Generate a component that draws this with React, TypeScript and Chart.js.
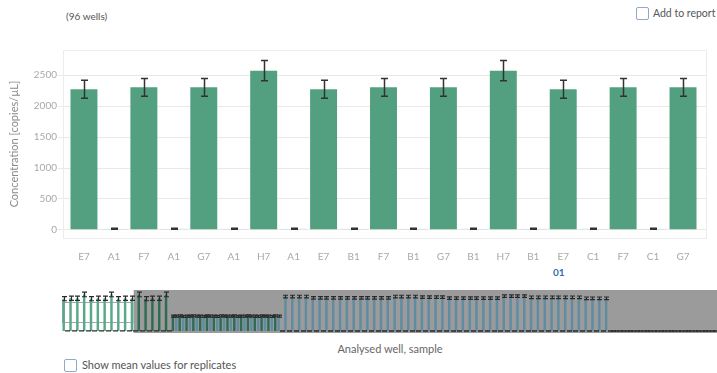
import React, { useEffect, useRef } from "react";
import { Chart, registerables } from "chart.js";
Chart.register(...registerables);

// ---------- data ----------
const mainLabels = ["E7", "A1", "F7", "A1", "G7", "A1", "H7", "A1", "E7", "B1", "F7", "B1", "G7", "B1", "H7", "B1", "E7", "C1", "F7", "C1", "G7"];
const mainValues = [2270, 8, 2300, 8, 2300, 8, 2570, 8, 2270, 8, 2300, 8, 2300, 8, 2570, 8, 2270, 8, 2300, 8, 2300];
const mainErrors = [145, 8, 145, 8, 145, 8, 163, 8, 145, 8, 145, 8, 145, 8, 163, 8, 145, 8, 145, 8, 145];
const yTicks = [0, 500, 1000, 1500, 2000, 2500];

const overviewValues1 = [2270, 8, 2300, 8, 2300, 8, 2570, 8, 2270, 8, 2300, 8, 2300, 8, 2570, 8, 2270, 8, 2300, 8, 2300, 8, 2570, 8, 2270, 8, 2300, 8, 2300, 8, 2570, 8];
const overviewErrors1 = [145, 8, 145, 8, 145, 8, 163, 8, 145, 8, 145, 8, 145, 8, 163, 8, 145, 8, 145, 8, 145, 8, 163, 8, 145, 8, 145, 8, 145, 8, 163, 8];
const overviewValues2 = [1050, 1040, 1060, 1030, 1050, 1040, 1070, 1050, 1040, 1030, 1060, 1040, 1050, 1030, 1070, 1040, 1050, 1040, 1060, 1030, 1050, 1040, 1070, 1050, 1040, 1030, 1060, 1040, 1050, 1030, 1070, 1040];
const overviewErrors2 = [70, 70, 70, 70, 70, 70, 70, 70, 70, 70, 70, 70, 70, 70, 70, 70, 70, 70, 70, 70, 70, 70, 70, 70, 70, 70, 70, 70, 70, 70, 70, 70];
const overviewValues3 = [0, 2420, 0, 2420, 0, 2420, 0, 2420, 0, 2330, 0, 2330, 0, 2330, 0, 2330, 0, 2330, 0, 2330, 0, 2330, 0, 2330, 0, 2330, 0, 2330, 0, 2330, 0, 2330];
const overviewErrors3 = [8, 90, 8, 90, 8, 90, 8, 90, 8, 90, 8, 90, 8, 90, 8, 90, 8, 90, 8, 90, 8, 90, 8, 90, 8, 90, 8, 90, 8, 90, 8, 90];
const overviewValues4 = [0, 2420, 0, 2420, 0, 2420, 0, 2420, 0, 2380, 0, 2380, 0, 2380, 0, 2380, 0, 2310, 0, 2310, 0, 2310, 0, 2310, 0, 2310, 0, 2310, 0, 2310, 0, 2310];
const overviewErrors4 = [8, 90, 8, 90, 8, 90, 8, 90, 8, 90, 8, 90, 8, 90, 8, 90, 8, 90, 8, 90, 8, 90, 8, 90, 8, 90, 8, 90, 8, 90, 8, 90];
const overviewValues5 = [0, 2450, 0, 2450, 0, 2450, 0, 2450, 0, 2370, 0, 2370, 0, 2370, 0, 2370, 0, 2370, 0, 2370, 0, 2370, 0, 2370, 0, 2300, 0, 2300, 0, 2300, 0, 2300];
const overviewErrors5 = [8, 90, 8, 90, 8, 90, 8, 90, 8, 90, 8, 90, 8, 90, 8, 90, 8, 90, 8, 90, 8, 90, 8, 90, 8, 90, 8, 90, 8, 90, 8, 90];
const overviewValues6 = [0, 0, 0, 0, 0, 0, 0, 0, 0, 0, 0, 0, 0, 0, 0, 0, 0, 0, 0, 0, 0, 0, 0, 0, 0, 0, 0, 0, 0, 0, 0, 0];
const overviewErrors6 = [8, 8, 8, 8, 8, 8, 8, 8, 8, 8, 8, 8, 8, 8, 8, 8, 8, 8, 8, 8, 8, 8, 8, 8, 8, 8, 8, 8, 8, 8, 8, 8];

const overviewValues = [...overviewValues1, ...overviewValues2, ...overviewValues3, ...overviewValues4, ...overviewValues5, ...overviewValues6];
const overviewErrors = [...overviewErrors1, ...overviewErrors2, ...overviewErrors3, ...overviewErrors4, ...overviewErrors5, ...overviewErrors6];
const overviewLabels = overviewValues.map((_, i) => String(i + 1));
const windowSize = mainLabels.length;

// ---------- styles ----------
const FONT = "Lato, 'Open Sans', sans-serif";
const GREEN = "#52a07f";
const LIGHT_BLUE = "#bfe2f1";

function errorBarPlugin(id: string, values: number[], errors: number[], cap: number, width: number, color: string) {
  return {
    id,
    afterDatasetsDraw(chart: any) {
      const { ctx } = chart;
      const xs = chart.scales.x;
      const ys = chart.scales.y;
      ctx.save();
      ctx.strokeStyle = color;
      ctx.lineWidth = width;
      values.forEach((v, i) => {
        const x = Math.round(xs.getPixelForValue(i)) + 0.5;
        const top = ys.getPixelForValue(v + errors[i]);
        const bot = ys.getPixelForValue(v - errors[i]);
        ctx.beginPath();
        ctx.moveTo(x, top);
        ctx.lineTo(x, bot);
        ctx.moveTo(x - cap / 2, top);
        ctx.lineTo(x + cap / 2, top);
        ctx.moveTo(x - cap / 2, bot);
        ctx.lineTo(x + cap / 2, bot);
        ctx.stroke();
      });
      ctx.restore();
    },
  };
}

const mainFramePlugin = {
  id: "mainFrame",
  beforeDatasetsDraw(chart: any) {
    const { ctx } = chart;
    const ys = chart.scales.y;
    const area = chart.chartArea;
    ctx.save();
    ctx.strokeStyle = "#e9e9e9";
    ctx.lineWidth = 1;
    yTicks.forEach((t) => {
      const y = Math.round(ys.getPixelForValue(t)) + 0.5;
      ctx.beginPath();
      ctx.moveTo(area.left - 11, y);
      ctx.lineTo(area.right + 9, y);
      ctx.stroke();
    });
    ctx.strokeStyle = "#ececec";
    ctx.strokeRect(area.left - 5.5, area.top + 0.5, area.right - area.left + 14, area.bottom - area.top);
    ctx.restore();
  },
};

const overviewShadePlugin = {
  id: "overviewShade",
  beforeDatasetsDraw(chart: any) {
    const { ctx } = chart;
    const area = chart.chartArea;
    const step = (area.right - area.left) / overviewValues.length;
    const xEnd = area.left + step * windowSize;
    ctx.save();
    ctx.fillStyle = "#9b9b9b";
    ctx.fillRect(xEnd, 0, chart.width - xEnd, chart.height);
    ctx.strokeStyle = "#a8a8a8";
    ctx.fillStyle = "#ffffff";
    ctx.fillRect(area.left, 12, xEnd - area.left, 20);
    ctx.strokeRect(area.left + 0.5, 12.5, xEnd - area.left - 1, 20);
    ctx.restore();
  },
};

function MainChart() {
  const ref = useRef<HTMLCanvasElement>(null);
  useEffect(() => {
    const chart = new Chart(ref.current!, {
      type: "bar",
      data: {
        labels: mainLabels,
        datasets: [
          {
            data: mainValues,
            backgroundColor: mainLabels.map((_, i) => (i % 2 === 0 ? GREEN : LIGHT_BLUE)),
            borderWidth: 0,
            barPercentage: 0.9,
            categoryPercentage: 1,
          },
        ],
      },
      options: {
        animation: false,
        responsive: false,
        devicePixelRatio: 1,
        layout: { padding: { top: 9, right: 19, left: 0, bottom: 0 } },
        plugins: { legend: { display: false }, tooltip: { enabled: false } },
        scales: {
          x: {
            grid: { display: false },
            border: { display: false },
            ticks: { color: "#a9a9a9", font: { family: FONT, size: 10 }, padding: 5, maxRotation: 0, autoSkip: false },
            afterFit: (s: any) => {
              s.height = 24;
            },
          },
          y: {
            min: -140,
            max: 2905,
            grid: { display: false },
            border: { display: false },
            ticks: {
              color: "#a9a9a9",
              font: { family: FONT, size: 10 },
              padding: 4,
              callback: (v: any) => String(v),
            },
            afterBuildTicks: (s: any) => {
              s.ticks = yTicks.map((v) => ({ value: v }));
            },
            afterFit: (s: any) => {
              s.width = 69;
            },
            title: {
              display: true,
              text: "Concentration [copies/µL]",
              color: "#8a8a8a",
              font: { family: FONT, size: 11 },
              padding: { top: 8, bottom: 0 },
            },
          },
        },
      },
      plugins: [mainFramePlugin, errorBarPlugin("mainErr", mainValues, mainErrors, 7, 1.5, "#333333")],
    });
    return () => chart.destroy();
  }, []);
  return <canvas ref={ref} width={717} height={222} style={{ position: "absolute", left: 0, top: 40, width: 717, height: 222 }} />;
}

function OverviewChart() {
  const ref = useRef<HTMLCanvasElement>(null);
  useEffect(() => {
    const colors = overviewValues.map((_, i) => {
      const inWindow = i < windowSize;
      if (i % 2 === 0) return inWindow ? "#5aa88a" : "#2f6b52";
      return inWindow ? "#d6eef7" : "#5f8ba3";
    });
    const chart = new Chart(ref.current!, {
      type: "bar",
      data: {
        labels: overviewLabels,
        datasets: [
          {
            data: overviewValues,
            backgroundColor: colors,
            borderWidth: 0,
            barPercentage: 0.72,
            categoryPercentage: 1,
          },
        ],
      },
      options: {
        animation: false,
        responsive: false,
        devicePixelRatio: 1,
        layout: { padding: { top: 0, right: 0, left: 2, bottom: 2 } },
        plugins: { legend: { display: false }, tooltip: { enabled: false } },
        scales: {
          x: { display: false },
          y: { display: false, min: 0, max: 2880 },
        },
      },
      plugins: [overviewShadePlugin, errorBarPlugin("ovErr", overviewValues, overviewErrors, 5, 1.2, "#2a2a2a")],
    });
    return () => chart.destroy();
  }, []);
  return <canvas ref={ref} width={657} height={43} style={{ position: "absolute", left: 60, top: 290, width: 657, height: 43 }} />;
}

function CheckBox({ left, top }: { left: number; top: number }) {
  return (
    <div
      style={{
        position: "absolute",
        left,
        top,
        width: 11,
        height: 11,
        border: "1px solid #93a8c6",
        borderRadius: 2,
        background: "#fff",
      }}
    />
  );
}

export default function App() {
  return (
    <div style={{ position: "absolute", left: 0, top: 0, width: 717, height: 373, background: "#fff", fontFamily: FONT, overflow: "hidden" }}>
      <div style={{ position: "absolute", left: 66, top: 10, fontSize: 10, color: "#555", lineHeight: "12px" }}>(96 wells)</div>
      <CheckBox left={636} top={7} />
      <div style={{ position: "absolute", left: 653, top: 6, fontSize: 10.5, color: "#555", lineHeight: "14px", whiteSpace: "nowrap" }}>Add to report</div>
      <MainChart />
      <div style={{ position: "absolute", left: 553, top: 266, fontSize: 10, color: "#2f6fae", fontWeight: 700, lineHeight: "12px" }}>01</div>
      <OverviewChart />
      <div style={{ position: "absolute", left: 290, width: 200, textAlign: "center", top: 342, fontSize: 11, color: "#666", lineHeight: "14px" }}>
        Analysed well, sample
      </div>
      <CheckBox left={64} top={359} />
      <div style={{ position: "absolute", left: 82, top: 358, fontSize: 11, color: "#555", lineHeight: "14px", whiteSpace: "nowrap" }}>
        Show mean values for replicates
      </div>
    </div>
  );
}
